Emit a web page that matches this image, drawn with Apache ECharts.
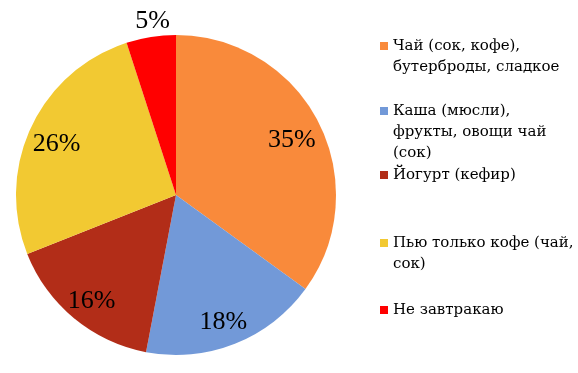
<!DOCTYPE html>
<html>
<head>
<meta charset="utf-8">
<script src="https://cdn.jsdelivr.net/npm/echarts@6/dist/echarts.min.js"></script>
<style>html,body{margin:0;padding:0;background:#fff;}#c{width:578px;height:373px;}</style>
</head>
<body>
<div id="c"></div>
<script>
const categories = [
  'Чай (сок, кофе),\nбутерброды, сладкое',
  'Каша (мюсли),\nфрукты, овощи чай\n(сок)',
  'Йогурт (кефир)',
  'Пью только кофе (чай,\nсок)',
  'Не завтракаю'
];
const values = [35, 18, 16, 26, 5];
const colors = ['#F98A3B', '#7299D8', '#B22D18', '#F2C932', '#FF0000'];

const chart = echarts.init(document.getElementById('c'), null, {renderer: 'canvas'});

const SERIF = '"Liberation Serif", "Times New Roman", serif';
const CYR_SERIF = '"DejaVu Serif", serif';
const LH = 21;
const legendCenters = [46, 111, 175, 243, 310];
const legends = categories.map((name, i) => {
  const lines = name.split('\n').length;
  const H = lines * LH;
  const c = LH / 2;
  const icon = 'path://M0,0L0.001,0ZM0,' + (c - 4) + 'L8,' + (c - 4) + 'L8,' + (c + 4) + 'L0,' + (c + 4) + 'ZM8,' + H + 'L7.999,' + H + 'Z';
  return {
    show: true,
    orient: 'vertical',
    left: 380,
    top: legendCenters[i] - LH / 2,
    padding: 0,
    itemWidth: 8,
    itemHeight: H,
    symbolKeepAspect: false,
    selectedMode: false,
    itemStyle: {borderWidth: 0},
    textStyle: {fontFamily: CYR_SERIF, fontStyle: 'normal', fontSize: 15, color: '#000', lineHeight: LH},
    data: [{name: name, icon: icon}]
  };
});

const mainData = categories.map((n, i) => ({name: n, value: values[i], itemStyle: {color: colors[i]}}));
const labelFont = {fontFamily: SERIF, fontStyle: 'normal', fontWeight: 'normal', fontSize: 26, color: '#000'};
const innerLabelData = categories.map((n, i) => ({
  name: n, value: values[i],
  label: {show: i !== 4}
}));
const outerLabelData = categories.map((n, i) => ({
  name: n, value: values[i],
  label: {show: i === 4}
}));

chart.setOption({
  animation: false,
  backgroundColor: '#fff',
  legend: legends,
  series: [
    {
      type: 'pie', radius: 160, center: [176, 195], startAngle: 90, clockwise: true,
      silent: true, data: mainData,
      itemStyle: {borderWidth: 0},
      label: {show: false}, labelLine: {show: false}
    },
    {
      type: 'pie', radius: [0, 256], center: [175, 200], startAngle: 90, clockwise: true,
      silent: true, data: innerLabelData,
      itemStyle: {color: 'rgba(0,0,0,0)', borderWidth: 0},
      label: Object.assign({position: 'inside', formatter: '{c}%'}, labelFont),
      labelLine: {show: false}
    },
    {
      type: 'pie', radius: [0, 352], center: [176, 198], startAngle: 90, clockwise: true,
      silent: true, data: outerLabelData,
      itemStyle: {color: 'rgba(0,0,0,0)', borderWidth: 0},
      label: Object.assign({position: 'inside', formatter: '{c}%', padding: [0, 0, 0, 9]}, labelFont),
      labelLine: {show: false}
    }
  ]
});
</script>
</body>
</html>
